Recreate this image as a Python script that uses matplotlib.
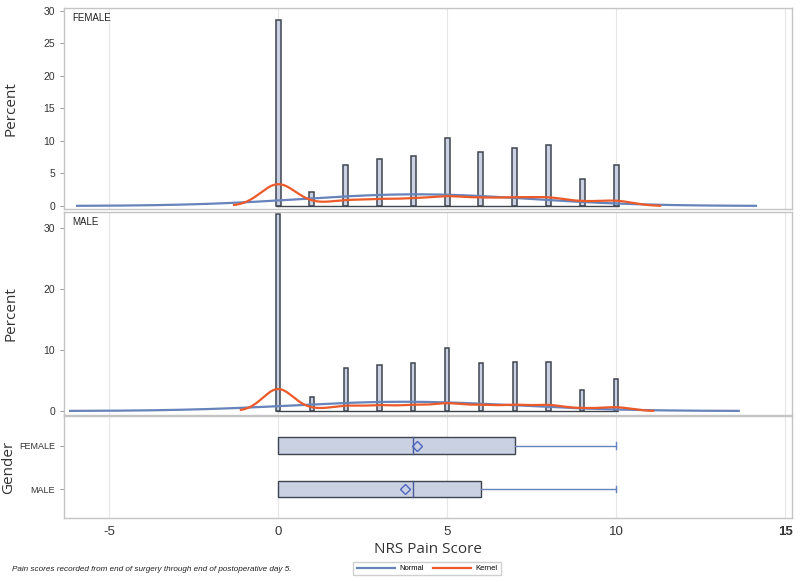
import numpy as np
import matplotlib
matplotlib.use('Agg')
import matplotlib.pyplot as plt
from matplotlib.lines import Line2D

# histogram percentages per NRS score
scores = [0, 1, 2, 3, 4, 5, 6, 7, 8, 9, 10]
female_pct = [28.6, 2.1, 6.3, 7.2, 7.7, 10.5, 8.3, 8.9, 9.4, 4.2, 6.3]
male_pct = [32.2, 2.35, 7.0, 7.5, 7.8, 10.25, 7.9, 8.05, 8.05, 3.4, 5.3]

# box plot stats: q1, median, q3, max, mean
genders = ['MALE', 'FEMALE']
box_q1 = [0, 0]
box_med = [4, 4]
box_q3 = [6, 7]
box_max = [10, 10]
box_mean = [3.75, 4.1]

bar_fill = '#C9D1E2'
bar_edge = '#3F4550'
normal_col = '#6683BB'
kernel_col = '#EC5A2A'
frame_col = '#C4C4C4'
grid_col = '#E6E6E6'

plt.rcParams['font.family'] = ['Liberation Sans', 'DejaVu Sans']
plt.rcParams['axes.unicode_minus'] = False

fig = plt.figure(figsize=(8, 5.82), dpi=100)
ax_f = fig.add_axes([0.08, 0.641, 0.91, 0.3453])
ax_m = fig.add_axes([0.08, 0.287, 0.91, 0.3487])
ax_b = fig.add_axes([0.08, 0.11, 0.91, 0.1752])

xmin, xmax = -6.33, 15.2
label_x = -0.062


def style(ax):
    ax.set_xlim(xmin, xmax)
    for s in ax.spines.values():
        s.set_color(frame_col)
        s.set_linewidth(1.0)
    ax.set_xticks([-5, 0, 5, 10, 15])
    ax.grid(axis='x', color=grid_col, linewidth=0.8)
    ax.set_axisbelow(True)
    ax.tick_params(axis='y', labelsize=7.5, colors='#333333', length=3, width=0.6)
    ax.tick_params(axis='y', color='#888888')


def hist_panel(ax, pct, binw, bw, kx, label, ylim, yticks):
    style(ax)
    pct = np.array(pct)
    x = np.array(scores, dtype=float)
    ax.bar(x, pct, width=binw, color=bar_fill, edgecolor=bar_edge, linewidth=1.1, zorder=2)
    ax.hlines(0, x[0] - binw / 2, x[-1] + binw / 2, color=bar_edge, linewidth=1.0, zorder=2)
    w = pct / pct.sum()
    mu = (w * x).sum()
    sd = np.sqrt((w * (x - mu) ** 2).sum())
    # normal fit
    xn = np.linspace(mu - 3 * sd, mu + 3 * sd, 300)
    yn = binw * 100 * np.exp(-0.5 * ((xn - mu) / sd) ** 2) / (sd * np.sqrt(2 * np.pi))
    # kernel density
    xk = np.linspace(kx[0], kx[1], 400)
    yk = binw * 100 * (w[:, None] * np.exp(-0.5 * ((xk[None, :] - x[:, None]) / bw) ** 2)).sum(0) / (bw * np.sqrt(2 * np.pi))
    ax.plot(xn, yn, color=normal_col, linewidth=1.6, zorder=3)
    ax.plot(xk, yk, color=kernel_col, linewidth=1.6, zorder=3)
    ax.set_ylim(*ylim)
    ax.set_yticks(yticks)
    ax.tick_params(axis='x', length=0, labelbottom=False)
    ax.text(0.012, 0.975, label, transform=ax.transAxes, ha='left', va='top', fontsize=7, color='#222222')
    ax.set_ylabel('Percent', fontsize=11, family='Open Sans', color='#333333')
    ax.yaxis.set_label_coords(label_x, 0.5)


hist_panel(ax_f, female_pct, 0.15, 0.52, (-1.3, 11.3), 'FEMALE', (-0.46, 30.46), [0, 5, 10, 15, 20, 25, 30])
hist_panel(ax_m, male_pct, 0.125, 0.45, (-1.1, 11.1), 'MALE', (-0.65, 32.6), [0, 10, 20, 30])

# box panel
style(ax_b)
h = 0.39
for i in range(len(genders)):
    ax_b.add_patch(plt.Rectangle((box_q1[i], i - h / 2), box_q3[i] - box_q1[i], h,
                                 facecolor=bar_fill, edgecolor=bar_edge, linewidth=1.0, zorder=2))
    ax_b.plot([box_med[i], box_med[i]], [i - h / 2, i + h / 2], color='#4A5A9A', linewidth=1.0, zorder=3)
    ax_b.plot([box_q3[i], box_max[i]], [i, i], color=normal_col, linewidth=1.0, zorder=2)
    ax_b.plot([box_max[i], box_max[i]], [i - 0.08, i + 0.08], color=normal_col, linewidth=1.0, zorder=2)
    ax_b.plot(box_mean[i], i, marker='D', markersize=5.5, markerfacecolor='none',
              markeredgecolor='#4F66C0', markeredgewidth=1.0, zorder=4)
ax_b.set_ylim(-0.67, 1.69)
ax_b.set_yticks([0, 1])
ax_b.set_yticklabels(genders)
ax_b.tick_params(axis='y', labelsize=6.5)
ax_b.tick_params(axis='x', labelsize=9.5, colors='#333333', length=0, pad=6)
ax_b.get_xticklabels()[-1].set_fontweight('bold')
ax_b.set_ylabel('Gender', fontsize=11, family='Open Sans', color='#333333')
ax_b.yaxis.set_label_coords(label_x - 0.004, 0.5)
ax_b.set_xlabel('NRS Pain Score', fontsize=11, family='Open Sans', color='#333333', labelpad=3)

fig.text(0.015, 0.022, 'Pain scores recorded from end of surgery through end of postoperative day 5.',
         fontsize=5.9, style='italic', color='#222222', va='center')

handles = [Line2D([], [], color=normal_col, linewidth=1.6),
           Line2D([], [], color=kernel_col, linewidth=1.6)]
fig.legend(handles, ['Normal', 'Kernel'], loc='center', bbox_to_anchor=(0.534, 0.023), ncol=2,
           fontsize=5.5, frameon=True, fancybox=False, edgecolor=frame_col, handlelength=5,
           borderpad=0.4, columnspacing=1.2, handletextpad=0.6)

fig.savefig('out.png', dpi=100)
